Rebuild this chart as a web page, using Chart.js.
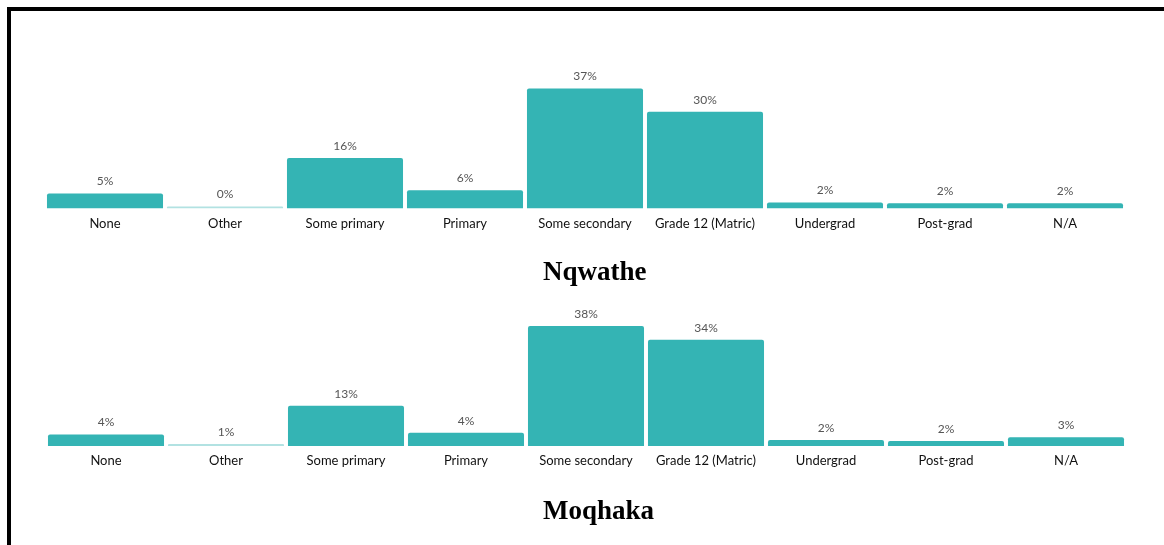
<!DOCTYPE html>
<html>
<head>
<meta charset="utf-8">
<script src="https://cdn.jsdelivr.net/npm/chart.js@4"></script>
<style>
  html, body { margin: 0; padding: 0; background: #fff; }
  body { width: 1164px; height: 545px; position: relative; overflow: hidden; }
  #frame { position: absolute; left: 7px; top: 7px; width: 1200px; height: 600px;
           border-left: 4px solid #000; border-top: 4px solid #000; box-sizing: border-box; }
  .wrap { position: absolute; left: 0; width: 1164px; }
  #w1 { top: 0; height: 300px; }
  #w2 { top: 300px; height: 245px; }
  .title { position: absolute; left: 543px; margin: 0; white-space: nowrap;
           font-family: "Liberation Serif", "Times New Roman", serif; font-weight: bold;
           font-size: 27px; line-height: 27px; color: #000; }
  #t1 { top: 258px; }
  #t2 { top: 497px; }
</style>
</head>
<body>
<div id="frame"></div>
<div class="wrap" id="w1"><canvas id="c1"></canvas></div>
<div class="wrap" id="w2"><canvas id="c2"></canvas></div>
<div class="title" id="t1"></div>
<div class="title" id="t2"></div>
<script>
const categories = ["None", "Other", "Some primary", "Primary", "Some secondary", "Grade 12 (Matric)", "Undergrad", "Post-grad", "N/A"];
const nqwatheValues = [4.6, 0.2, 15.6, 5.6, 37.1, 29.9, 1.8, 1.6, 1.6];
const moqhakaValues = [3.6, 0.6, 12.7, 4.2, 37.9, 33.6, 1.9, 1.6, 2.8];
const chartTitles = ["Nqwathe", "Moqhaka"];

document.getElementById("t1").textContent = chartTitles[0];
document.getElementById("t2").textContent = chartTitles[1];

const TEAL = "rgb(52,180,180)";
const PALE = "rgb(178,226,226)";

const valueLabels = {
  id: "valueLabels",
  afterDatasetsDraw(chart) {
    const ctx = chart.ctx;
    const meta = chart.getDatasetMeta(0);
    const data = chart.data.datasets[0].data;
    ctx.save();
    ctx.font = "12px Lato";
    ctx.fillStyle = "#555";
    ctx.textAlign = "center";
    ctx.textBaseline = "middle";
    meta.data.forEach((bar, i) => {
      ctx.fillText(Math.round(data[i]) + "%", bar.x, bar.y - 12);
    });
    ctx.restore();
  }
};

function makeChart(id, values, pad) {
  return new Chart(document.getElementById(id), {
    type: "bar",
    data: {
      labels: categories,
      datasets: [{
        data: values,
        backgroundColor: (c) => (c.raw < 1 ? PALE : TEAL),
        borderWidth: 0,
        borderRadius: 2,
        minBarLength: 2,
        barPercentage: 0.967,
        categoryPercentage: 1.0
      }]
    },
    options: {
      responsive: true,
      maintainAspectRatio: false,
      animation: false,
      layout: { padding: pad },
      plugins: {
        legend: { display: false },
        tooltip: { enabled: false },
        title: { display: false }
      },
      scales: {
        x: {
          grid: { display: false, drawTicks: false },
          border: { display: false },
          ticks: { color: "#111", padding: 7.5, font: { family: "Lato", size: 13 } }
        },
        y: { display: false, min: 0, max: 40 }
      }
    },
    plugins: [valueLabels]
  });
}

makeChart("c1", nqwatheValues, { top: 79, left: 45, right: 39, bottom: 61 });
makeChart("c2", moqhakaValues, { top: 19.4, left: 46, right: 38, bottom: 68.4 });
</script>
</body>
</html>
